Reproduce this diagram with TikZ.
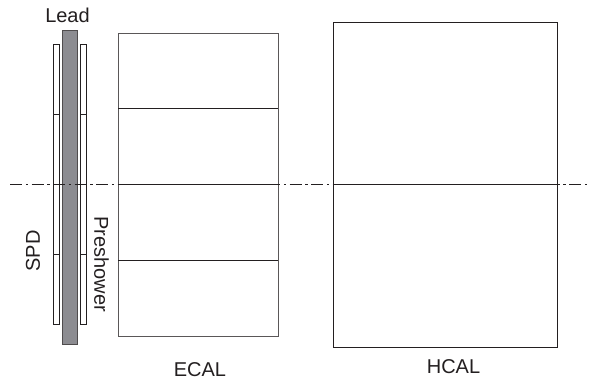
\documentclass[tikz,border=0pt]{standalone}
\usepackage{fontspec}
\setmainfont{Liberation Sans}
\definecolor{ink}{RGB}{35,31,32}
\definecolor{leadgrey}{RGB}{140,140,145}
\tikzset{
  x=1pt,y=-1pt,
  cell/.style={draw=ink,line width=0.9pt,fill=white,inner sep=0pt,minimum width=0pt},
  lbl/.style={text=ink,font=\fontsize{20}{20}\selectfont,inner sep=0pt},
  axisline/.style={draw=ink,line width=0.8pt,dash pattern=on 12pt off 3.8pt on 2.4pt off 3.3pt},
}
\begin{document}
\begin{tikzpicture}
\useasboundingbox (0,0) rectangle (590,380);
% SPD
\coordinate (spdTL) at (53.7,44.5); \coordinate (spdBR) at (59.8,324.5);
\draw[cell] (spdTL) rectangle (spdBR);
\coordinate (s1l) at (53.7,114.5); \coordinate (s1r) at (59.8,114.5);
\coordinate (s2l) at (53.7,184.5); \coordinate (s2r) at (59.8,184.5);
\coordinate (s3l) at (53.7,254.5); \coordinate (s3r) at (59.8,254.5);
\draw[cell] (s1l)--(s1r) (s2l)--(s2r) (s3l)--(s3r);
% Preshower
\coordinate (pTL) at (80,44.5); \coordinate (pBR) at (86,324.5);
\draw[cell] (pTL) rectangle (pBR);
\coordinate (p1l) at (80,114.5); \coordinate (p1r) at (86,114.5);
\coordinate (p2l) at (80,184.5); \coordinate (p2r) at (86,184.5);
\coordinate (p3l) at (80,254.5); \coordinate (p3r) at (86,254.5);
\draw[cell] (p1l)--(p1r) (p2l)--(p2r) (p3l)--(p3r);
% Lead
\coordinate (lTL) at (62.5,30.3); \coordinate (lBR) at (77,344.8);
\draw[draw=ink!80,line width=0.9pt,fill=leadgrey] (lTL) rectangle (lBR);
% ECAL
\coordinate (eTL) at (118,33); \coordinate (eBR) at (278,336);
\draw[cell,draw=ink!75] (eTL) rectangle (eBR);
\coordinate (e1l) at (118,108.5); \coordinate (e1r) at (278,108.5);
\coordinate (e2l) at (118,184.5); \coordinate (e2r) at (278,184.5);
\coordinate (e3l) at (118,260.3); \coordinate (e3r) at (278,260.3);
\draw[cell] (e1l)--(e1r) (e2l)--(e2r) (e3l)--(e3r);
% HCAL
\coordinate (hTL) at (333.3,22); \coordinate (hBR) at (557.5,347.7);
\draw[cell] (hTL) rectangle (hBR);
\coordinate (h1l) at (333.3,184.5); \coordinate (h1r) at (557.5,184.5);
\draw[cell] (h1l)--(h1r);
% axis
\coordinate (axL) at (10,184.5); \coordinate (axR) at (590,184.5);
\draw[axisline] (axL)--(axR);
% labels
\node[lbl] (lead) at (67.5,15) {Lead};
\node[lbl,rotate=90] (spd) at (33,251) {SPD};
\node[lbl,rotate=-90] (pre) at (101.5,264) {Preshower};
\node[lbl] (ecal) at (200,370) {ECAL};
\node[lbl] (hcal) at (453.5,366.5) {HCAL};
\end{tikzpicture}
\end{document}
